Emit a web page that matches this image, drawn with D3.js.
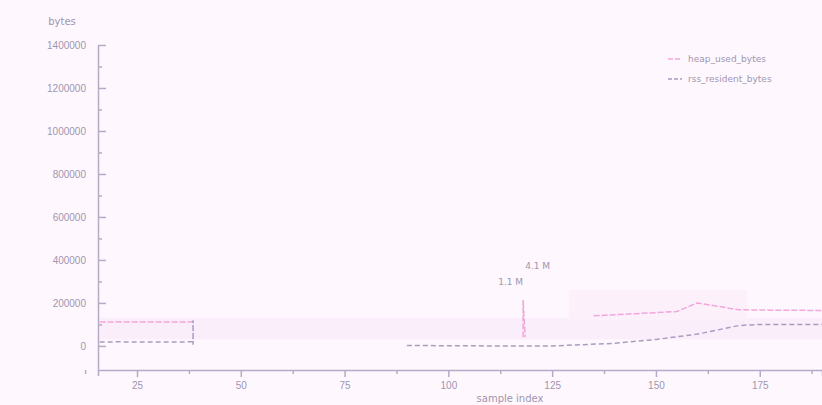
<!DOCTYPE html>
<html>
<head>
<meta charset="utf-8">
<script src="https://cdn.jsdelivr.net/npm/d3@7"></script>
<style>
  html, body { margin: 0; padding: 0; background: #fef8fe; }
  svg { display: block; font-family: "DejaVu Sans", sans-serif; }
</style>
</head>
<body>
<svg id="chart" width="822" height="405"></svg>
<script>
// Memory usage samples (x = sample index)
const xTicks = [25, 50, 75, 100, 125, 150, 175];
const yTicks = [0, 200000, 400000, 600000, 800000, 1000000, 1200000, 1400000];

const seriesNames = ["heap_used_bytes", "rss_resident_bytes"];

// heap series (pink); null marks a gap in sampling
const heapX = [16, 20, 30, 38.5, 40, 118, 118, 118.5, 125, 135, 145, 155, 160, 170, 180, 190];
const heapY = [111000, 112000, 111000, 112000, null, 40000, 214000, 40000, null, 140000, 150000, 160000, 200000, 168000, 166000, 165000];

// rss series (grey)
const rssX = [16, 20, 30, 38.5, 38.5, 38.5, 70, 90, 110, 125, 140, 150, 160, 170, 175, 190];
const rssY = [18000, 19000, 18000, 19000, 120000, 5000, null, 2000, 0, 0, 12000, 30000, 55000, 95000, 100000, 100000];

const notes = [
  { x: 118.5, y: 360000, text: "4.1 M" },
  { x: 112, y: 285000, text: "1.1 M" }
];

const svg = d3.select("#chart");
const margin = { left: 98, right: 0, top: 45, bottom: 35 };
const W = 822, H = 405;

const x = d3.scaleLinear().domain([15.6, 190]).range([margin.left, W]);
const y = d3.scaleLinear().domain([-112000, 1400000]).range([H - margin.bottom, margin.top]);

const axisCol = "#b5abc6";
const textCol = "#9f95b0";
const colors = ["#f2a6dc", "#a99cc0"];
const dashes = ["6,2", "5,3"];

// light shaded bands
svg.append("rect")
  .attr("x", x(16)).attr("y", y(130000))
  .attr("width", x(190) - x(16)).attr("height", y(30000) - y(130000))
  .attr("fill", "#fbeefb");
svg.append("rect")
  .attr("x", x(129)).attr("y", y(260000))
  .attr("width", x(172) - x(129)).attr("height", y(120000) - y(260000))
  .attr("fill", "#fcf0fb");

// x axis
const xMinor = d3.range(12.5, 190, 12.5);
const gx = svg.append("g").attr("transform", `translate(0,${H - margin.bottom})`);
gx.call(d3.axisBottom(x).tickValues(xMinor).tickSize(6)
    .tickFormat(d => xTicks.includes(d) ? d : ""));
gx.select(".domain").attr("stroke", axisCol).attr("stroke-width", 1.5);
gx.selectAll(".tick line").attr("stroke", axisCol).attr("stroke-width", 1.5)
  .attr("y2", d => xTicks.includes(d) ? 7 : 4);
gx.selectAll(".tick text").attr("fill", textCol).attr("font-size", 10).attr("dy", "1em");

// y axis
const yMinor = d3.range(0, 1400001, 100000);
const gy = svg.append("g").attr("transform", `translate(${margin.left},0)`);
gy.call(d3.axisLeft(y).tickValues(yMinor).tickSize(0)
    .tickFormat(d => yTicks.includes(d) ? d3.format("d")(d) : ""));
gy.select(".domain").attr("stroke", axisCol).attr("stroke-width", 1.5);
gy.selectAll(".tick line").attr("stroke", axisCol).attr("stroke-width", 1.5)
  .attr("x1", 0).attr("x2", d => yTicks.includes(d) ? 8 : 4);
gy.selectAll(".tick text").attr("fill", textCol).attr("font-size", 10).attr("x", -12);

// axis titles
svg.append("text").attr("x", 62).attr("y", 25).attr("text-anchor", "middle")
  .attr("fill", textCol).attr("font-size", 10).text("bytes");
svg.append("text").attr("x", 510).attr("y", 402).attr("text-anchor", "middle")
  .attr("fill", textCol).attr("font-size", 10).text("sample index");

// lines
const line = d3.line().defined(d => d[1] !== null).x(d => x(d[0])).y(d => y(d[1]));
[[heapX, heapY], [rssX, rssY]].forEach(([xs, ys], i) => {
  svg.append("path").datum(xs.map((v, j) => [v, ys[j]]))
    .attr("d", line).attr("fill", "none").attr("stroke", colors[i])
    .attr("stroke-width", 1.5).attr("stroke-dasharray", dashes[i]);
});

// annotations
svg.selectAll("text.note").data(notes).join("text").attr("class", "note")
  .attr("x", d => x(d.x)).attr("y", d => y(d.y)).attr("font-size", 9)
  .attr("fill", textCol).text(d => d.text);

// legend
const lg = svg.append("g").attr("transform", "translate(668,62)");
seriesNames.forEach((name, i) => {
  const g = lg.append("g").attr("transform", `translate(0,${i * 20})`);
  g.append("line").attr("x1", 0).attr("x2", 14).attr("y1", -3).attr("y2", -3)
    .attr("stroke", colors[i]).attr("stroke-width", 1.5)
    .attr("stroke-dasharray", i === 0 ? "5,2" : "4,2");
  g.append("text").attr("x", 20).attr("y", 0).attr("font-size", 9)
    .attr("fill", textCol).text(name);
});
</script>
</body>
</html>
